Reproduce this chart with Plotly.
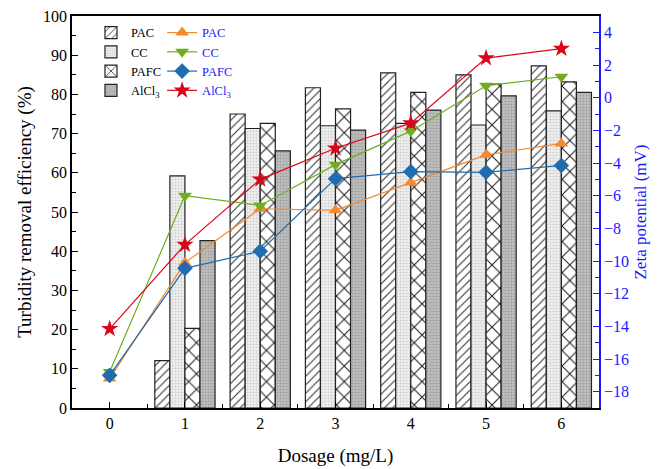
import plotly.graph_objects as go

dosage = [0, 1, 2, 3, 4, 5, 6]
bar_dosage = [1, 2, 3, 4, 5, 6]

# Turbidity removal efficiency (%)
eff_pac = [12.1, 75.0, 81.7, 85.5, 85.0, 87.3]
eff_cc = [59.2, 71.3, 72.0, 72.6, 72.2, 75.8]
eff_pafc = [20.3, 72.6, 76.3, 80.5, 82.6, 83.2]
eff_alcl3 = [42.7, 65.6, 70.9, 76.0, 79.6, 80.5]

# Zeta potential (mV)
zeta_pac = [-17.2, -10.1, -6.8, -6.9, -5.2, -3.5, -2.8]
zeta_cc = [-16.8, -6.0, -6.6, -4.1, -2.05, 0.73, 1.28]
zeta_pafc = [-17.0, -10.45, -9.4, -4.96, -4.53, -4.57, -4.15]
zeta_alcl3 = [-14.15, -9.0, -5.0, -3.1, -1.56, 2.42, 3.0]

bar_names = ["PAC", "CC", "PAFC", "AlCl<sub>3</sub>"]
line_names = ["PAC", "CC", "PAFC", "AlCl<sub>3</sub>"]

FONT = "Liberation Serif, Times New Roman, serif"
BLUE = "#1a1aff"

fig = go.Figure()

bar_styles = [
    dict(bgcolor="white", shape="/", fgcolor="#333333", size=6, solidity=0.18),
    dict(bgcolor="#f2f2f2", shape=".", fgcolor="#d0d0d0", size=3, solidity=0.4),
    dict(bgcolor="white", shape="x", fgcolor="#222222", size=11, solidity=0.18),
    dict(bgcolor="#c0c0c0", shape=".", fgcolor="#a0a0a0", size=3, solidity=0.4),
]
for name, vals, pat in zip(bar_names, [eff_pac, eff_cc, eff_pafc, eff_alcl3], bar_styles):
    fig.add_trace(go.Bar(
        x=bar_dosage, y=vals, name=name,
        marker=dict(color=pat["bgcolor"], line=dict(color="#222222", width=1.2),
                    pattern=dict(shape=pat["shape"], fgcolor=pat["fgcolor"],
                                 bgcolor=pat["bgcolor"], size=pat["size"],
                                 solidity=pat["solidity"], fillmode="replace")),
        legend="legend",
    ))

line_styles = [
    ("#f5892e", "triangle-up", 12),
    ("#6fae1e", "triangle-down", 12),
    ("#1f6db0", "diamond", 12),
    ("#d9061a", "star", 13),
]
for name, vals, (col, sym, sz) in zip(line_names, [zeta_pac, zeta_cc, zeta_pafc, zeta_alcl3], line_styles):
    fig.add_trace(go.Scatter(
        x=dosage, y=vals, name=name, mode="lines+markers",
        line=dict(color=col, width=1.2),
        marker=dict(symbol=sym, size=sz, color=col, line=dict(width=0)),
        yaxis="y2", legend="legend2",
    ))

fig.update_layout(
    width=659, height=461,
    margin=dict(l=64, r=68, t=8, b=61),
    paper_bgcolor="white", plot_bgcolor="white",
    font=dict(family=FONT, size=16, color="black"),
    barmode="group", bargap=0.2, bargroupgap=0,
    xaxis=dict(
        range=[-0.5, 6.5], dtick=1, tick0=0, automargin=False, ticklabeloverflow="allow",
        showline=True, linecolor="black", linewidth=1.5, mirror=True,
        ticks="inside", ticklen=6, tickcolor="black",
        minor=dict(dtick=0.5, tick0=0.5, ticks="inside", ticklen=4, tickcolor="black"),
        showgrid=False, zeroline=False,
        title=dict(text="Dosage (mg/L)", font=dict(size=19, family=FONT), standoff=18),
        tickfont=dict(size=16, family=FONT),
    ),
    yaxis=dict(
        range=[0, 100], dtick=10, automargin=False, ticklabeloverflow="allow",
        showline=True, linecolor="black", linewidth=1.5,
        ticks="inside", ticklen=6, tickcolor="black",
        minor=dict(dtick=5, ticks="inside", ticklen=4, tickcolor="black"),
        showgrid=False, zeroline=False,
        title=dict(text="Turbidity removal efficiency (%)", font=dict(size=19, family=FONT), standoff=6),
        tickfont=dict(size=16, family=FONT),
    ),
    yaxis2=dict(
        range=[-19, 5], dtick=2, overlaying="y", side="right", automargin=False,
        ticklabeloverflow="allow",
        showline=True, linecolor=BLUE, linewidth=1.5,
        ticks="inside", ticklen=6, tickcolor=BLUE,
        minor=dict(dtick=1, ticks="inside", ticklen=4, tickcolor=BLUE),
        showgrid=False, zeroline=False,
        tickfont=dict(size=16, color=BLUE, family=FONT),
        title=dict(text="Zeta potential (mV)", font=dict(size=17, color=BLUE, family=FONT), standoff=6),
    ),
    legend=dict(
        x=0.036, y=0.995, xanchor="left", yanchor="top",
        bgcolor="rgba(0,0,0,0)", font=dict(size=12.5, color="black", family=FONT),
        itemwidth=30, tracegroupgap=0,
    ),
    legend2=dict(
        x=0.171, y=0.995, xanchor="left", yanchor="top",
        bgcolor="rgba(0,0,0,0)", font=dict(size=12.5, color=BLUE, family=FONT),
        itemwidth=30, tracegroupgap=0,
    ),
)

fig.write_html("out.html")
